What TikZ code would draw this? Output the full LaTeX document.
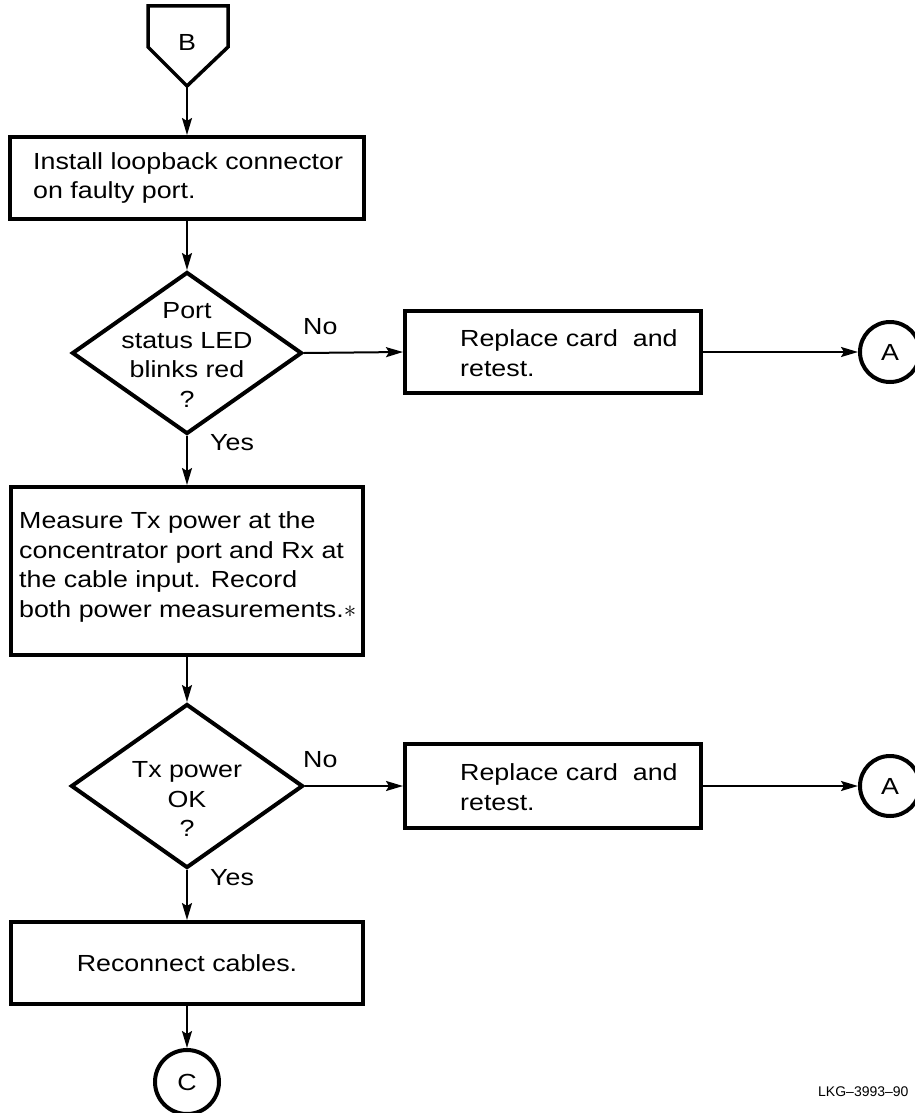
\documentclass[tikz,border=0pt]{standalone}
\usepackage{fontspec}
\setmainfont{Liberation Sans}[FakeStretch=1.15]
\newfontfamily\plainsans{Liberation Sans}
\usetikzlibrary{arrows.meta,shapes.geometric}
\tikzset{
  every node/.style={font=\fontsize{23.3}{29.5}\selectfont},
  procbox/.style={draw,line width=4pt,rectangle,inner sep=0pt},
  decision/.style={draw,line width=4pt,diamond,inner sep=0pt},
  connector/.style={draw,line width=4pt,circle,inner sep=0pt,minimum size=60pt},
  flow/.style={line width=2pt,-{Stealth[length=17pt,width=10pt,inset=3pt]}},
  txt/.style={align=left,anchor=west,inner sep=0pt},
  ctxt/.style={align=center,inner sep=0pt},
}
\begin{document}
\begin{tikzpicture}[x=1pt,y=-1pt]
\useasboundingbox (0,0) rectangle (915,1113);
% off-page connector B
\coordinate (Bpt) at (187,86);
\draw[line width=3.5pt,line join=miter] (148,6) -- (228,6) -- (228,47) -- (Bpt) -- (148,47) -- cycle;
\node[ctxt] (Blab) at (187,42) {B};
% boxes
\node[procbox,minimum width=354pt,minimum height=82pt] (box1) at (187,178) {};
\node[txt] (box1t) at (33,178) {Install loopback connector\\on faulty port.};
\node[decision,minimum width=230pt,minimum height=162pt] (d1) at (187,353) {};
\node[ctxt] (d1t) at (187,355) {Port\\status LED\\blinks red\\?};
\node[procbox,minimum width=296pt,minimum height=82pt] (box2) at (553,352) {};
\node[txt] (box2t) at (460,353) {Replace card\ \ and\\retest.};
\node[connector] (A1) at (890,352) {A};
\node[procbox,minimum width=352pt,minimum height=168pt] (box3) at (187,571) {};
\node[txt] (box3t) at (19,567) {Measure Tx power at the\\concentrator port and Rx at\\the cable input. Record\\both power measurements.$\ast$};
\node[decision,minimum width=232pt,minimum height=164pt] (d2) at (187,786) {};
\node[ctxt] (d2t) at (187,799) {Tx power\\OK\\?};
\node[procbox,minimum width=296pt,minimum height=84pt] (box4) at (553,786) {};
\node[txt] (box4t) at (460,787) {Replace card\ \ and\\retest.};
\node[connector] (A2) at (890,786) {A};
\node[procbox,minimum width=352pt,minimum height=82pt] (box5) at (187,963) {Reconnect cables.};
\node[connector,minimum size=64pt] (C) at (187,1082) {C};
% labels
\node[txt] (no1) at (303,327) {No};
\node[txt] (yes1) at (210,443) {Yes};
\node[txt] (no2) at (303,760) {No};
\node[txt] (yes2) at (210,878) {Yes};
\node[txt,font=\plainsans\fontsize{14}{16}\selectfont] (lkg) at (818,1092) {LKG–3993–90};
% connectors
\draw[flow] (Bpt) -- (box1.north);
\draw[flow] (box1.south) -- (d1.north);
\draw[flow] (d1.east) -- (box2.west);
\draw[flow] (box2.east) -- (A1.west);
\draw[flow] (d1.south) -- (box3.north);
\draw[flow] (box3.south) -- (d2.north);
\draw[flow] (d2.east) -- (box4.west);
\draw[flow] (box4.east) -- (A2.west);
\draw[flow] (d2.south) -- (box5.north);
\draw[flow] (box5.south) -- (C.north);
\end{tikzpicture}
\end{document}
